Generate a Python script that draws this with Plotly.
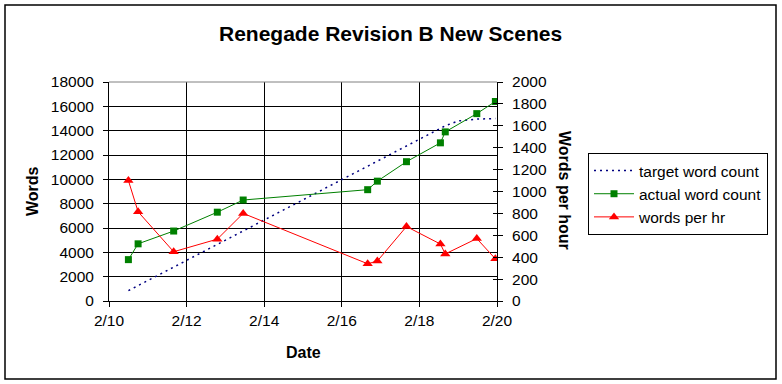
import plotly.graph_objects as go

# ---- data ----
dates = ["2009-02-10 12:00", "2009-02-10 18:00", "2009-02-11 16:00", "2009-02-12 19:00",
         "2009-02-13 11:00", "2009-02-16 16:00", "2009-02-16 22:00", "2009-02-17 16:00",
         "2009-02-18 13:00", "2009-02-18 16:00", "2009-02-19 11:30", "2009-02-19 23:00"]
actual_words = [3400, 4700, 5750, 7300, 8300, 9150, 9850, 11450, 13000, 13900, 15400, 16400]
words_per_hr = [1100, 815, 450, 565, 800, 340, 365, 680, 520, 430, 570, 385]
target_dates = ["2009-02-10 12:00", "2009-02-18 16:00", "2009-02-19 00:00",
                "2009-02-19 11:30", "2009-02-19 23:00"]
target_words = [850, 14400, 14800, 14950, 15000]

title_text = "Renegade Revision B New Scenes"
x_title = "Date"
y_title = "Words"
y2_title = "Words per hour"

# ---- layout geometry (pixels) ----
W, H = 782, 384
L, R, T, B = 109, 497, 82, 301
PW, PH = R - L, B - T

def px(x):
    return (x - L) / PW

def py(y):
    return (B - y) / PH

FONT = "Liberation Sans, Arial, sans-serif"
tickfont = dict(family=FONT, size=15.5, color="black")

fig = go.Figure()
fig.add_trace(go.Scatter(
    x=target_dates, y=target_words, name="target word count", mode="lines",
    line=dict(color="#000080", width=1.5, dash="2px,4px"), yaxis="y"))
fig.add_trace(go.Scatter(
    x=dates, y=actual_words, name="actual word count", mode="lines+markers",
    line=dict(color="#008000", width=1), marker=dict(symbol="square", size=7, color="#008000"),
    yaxis="y"))
fig.add_trace(go.Scatter(
    x=dates, y=words_per_hr, name="words per hr", mode="lines+markers",
    line=dict(color="#ff0000", width=1), marker=dict(symbol="triangle-up", size=9, color="#ff0000"),
    yaxis="y2"))

fig.update_layout(
    width=W, height=H,
    margin=dict(l=L, r=W - R, t=T, b=H - B, pad=0),
    paper_bgcolor="white", plot_bgcolor="white",
    font=dict(family=FONT, color="black"),
    showlegend=True,
    legend=dict(x=px(588), y=py(153), xanchor="left", yanchor="top",
                bordercolor="black", borderwidth=1, bgcolor="white",
                font=dict(family=FONT, size=15.5, color="black"),
                itemwidth=40, tracegroupgap=0),
    xaxis=dict(type="date", range=["2009-02-10", "2009-02-20"],
               tick0="2009-02-10", dtick=2 * 86400000, tickformat="%-m/%-d",
               showgrid=True, gridcolor="black", gridwidth=1,
               showline=True, linecolor="black", linewidth=1,
               ticks="outside", ticklen=5, tickcolor="black",
               tickfont=tickfont, zeroline=False),
    yaxis=dict(range=[0, 18000], dtick=2000, tick0=0, tickformat="d",
               showgrid=True, gridcolor="black", gridwidth=1,
               showline=True, linecolor="black", linewidth=1,
               ticks="outside", ticklen=5, tickcolor="black",
               tickfont=tickfont, zeroline=False, ticklabelstandoff=6),
    yaxis2=dict(range=[0, 2000], dtick=200, tick0=0, tickformat="d",
                overlaying="y", side="right",
                anchor="x", showgrid=False, showline=True, linecolor="black", linewidth=1,
                ticks="outside", ticklen=5, tickcolor="black",
                tickfont=tickfont, zeroline=False, ticklabelstandoff=6),
    yaxis3=dict(range=[0, 2000], dtick=200, tick0=0, overlaying="y", side="right",
                anchor="x", showgrid=False, showline=False, showticklabels=False,
                ticks="inside", ticklen=4, tickcolor="black", zeroline=False),
)

# hidden trace to activate yaxis3 ticks
fig.add_trace(go.Scatter(x=[dates[0]], y=[0], yaxis="y3", mode="markers",
                         marker=dict(opacity=0), showlegend=False, hoverinfo="skip"))

shapes = [
    dict(type="line", xref="paper", yref="paper", x0=0, x1=1, y0=1, y1=1,
         line=dict(color="#808080", width=1)),
    dict(type="rect", xref="paper", yref="paper",
         x0=px(5), x1=px(776), y0=py(379), y1=py(5),
         line=dict(color="black", width=1.5), layer="above"),
]
fig.update_layout(shapes=shapes)

annotations = [
    dict(text="<b>" + title_text + "</b>", x=px(390), y=py(33), xref="paper", yref="paper",
         showarrow=False, xanchor="center", yanchor="middle",
         font=dict(family=FONT, size=21, color="black")),
    dict(text="<b>" + x_title + "</b>", x=px(303), y=py(352), xref="paper", yref="paper",
         showarrow=False, xanchor="center", yanchor="middle",
         font=dict(family=FONT, size=16, color="black")),
    dict(text="<b>" + y_title + "</b>", x=px(32), y=py(191), xref="paper", yref="paper",
         showarrow=False, xanchor="center", yanchor="middle", textangle=-90,
         font=dict(family=FONT, size=16, color="black")),
    dict(text="<b>" + y2_title + "</b>", x=px(565), y=py(190), xref="paper", yref="paper",
         showarrow=False, xanchor="center", yanchor="middle", textangle=90,
         font=dict(family=FONT, size=16, color="black")),
]
fig.update_layout(annotations=annotations)

fig.write_html("out.html", config={"displayModeBar": False},
               post_script="document.body.style.margin='0';")
